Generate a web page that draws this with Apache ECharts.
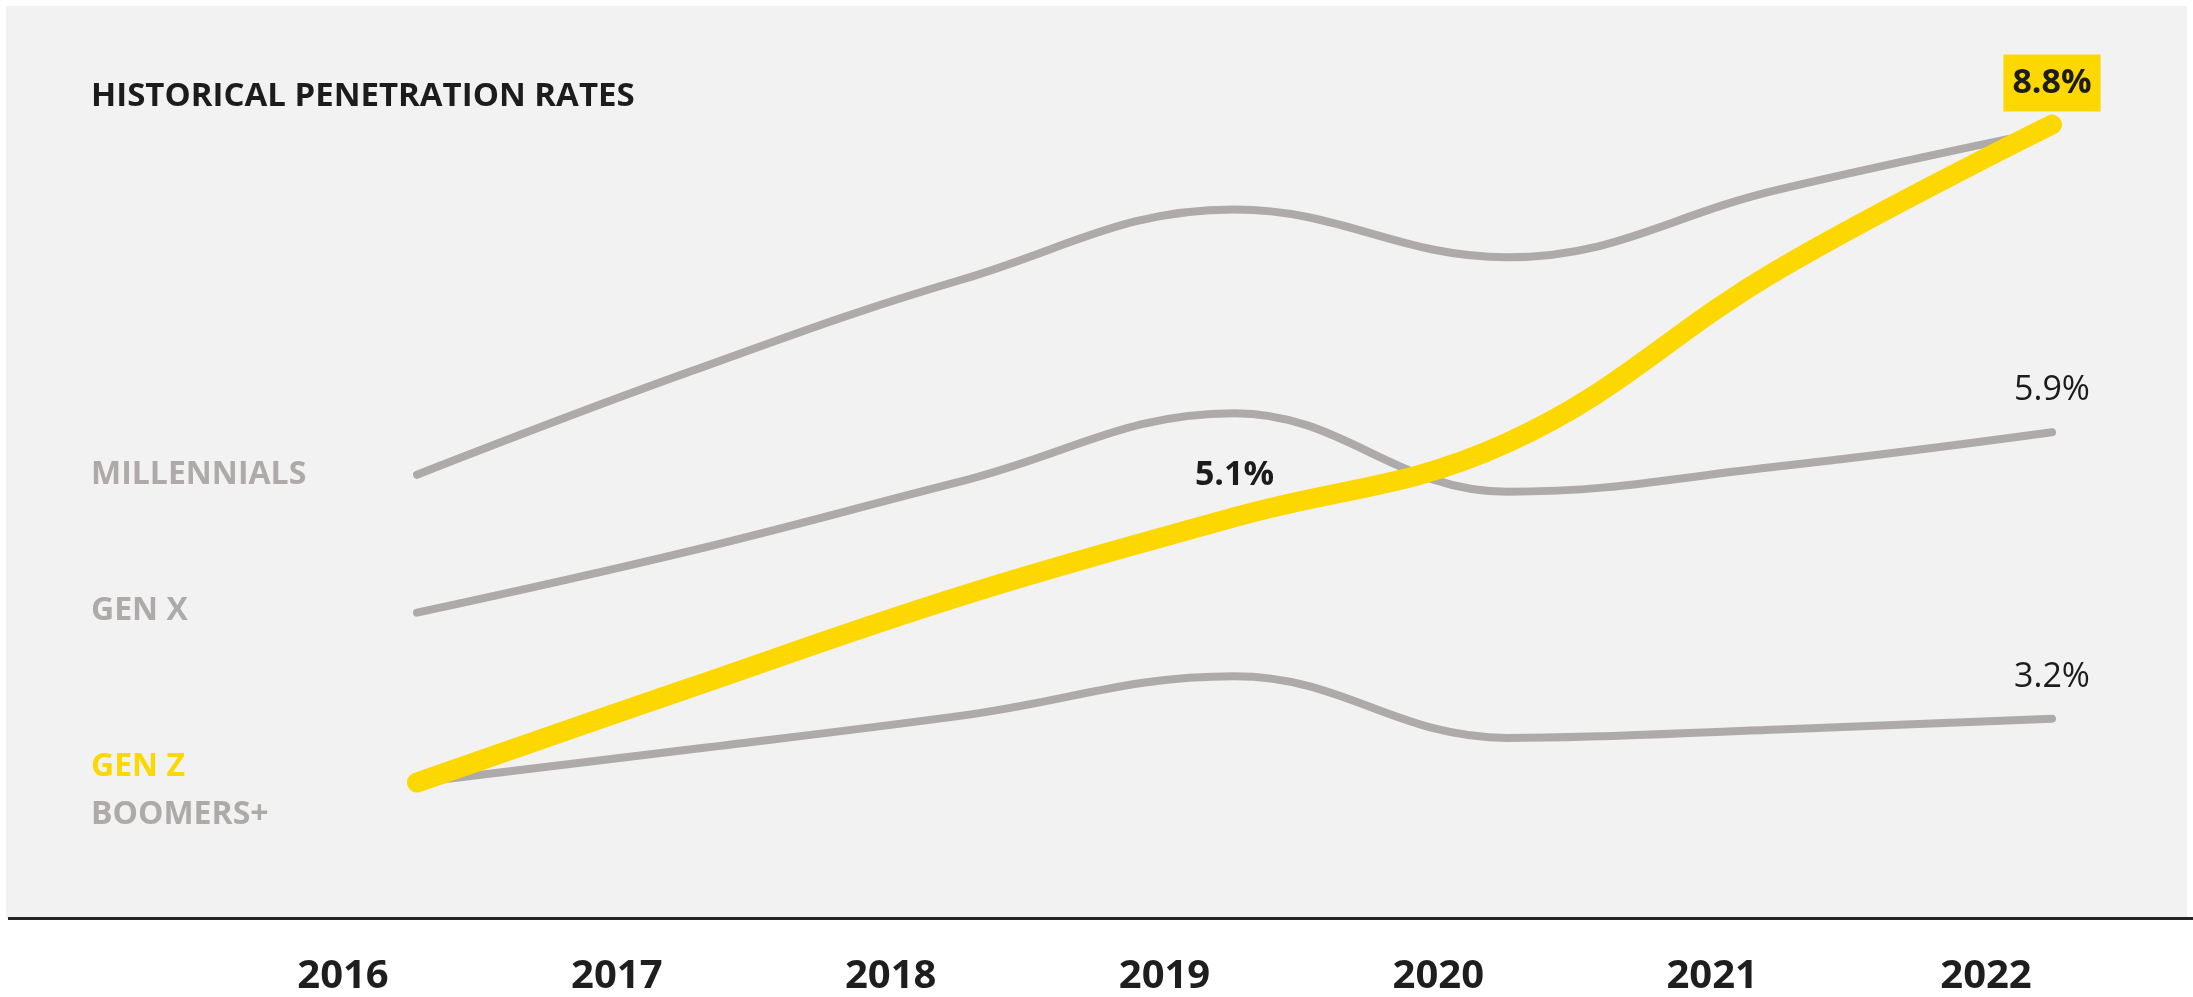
<!DOCTYPE html>
<html>
<head>
<meta charset="utf-8">
<title>Historical Penetration Rates</title>
<script src="https://cdn.jsdelivr.net/npm/echarts@6/dist/echarts.min.js"></script>
<style>
  html, body { margin: 0; padding: 0; background: #ffffff; }
  #chart { width: 2193px; height: 997px; }
</style>
</head>
<body>
<div id="chart"></div>
<script>
// Penetration rate (%) by generation, 2016-2022
const years = ['2016', '2017', '2018', '2019', '2020', '2021', '2022'];
const millennials = [5.5, 6.47, 7.34, 8.0, 7.55, 8.19, 8.75];
const genX = [4.2, 4.78, 5.44, 6.08, 5.34, 5.58, 5.9];
const genZ = [2.6, 3.49, 4.36, 5.1, 5.8, 7.44, 8.8];
const boomers = [2.6, 2.91, 3.23, 3.6, 3.02, 3.1, 3.2];

const titleText = 'HISTORICAL PENETRATION RATES';
const seriesNames = ['MILLENNIALS', 'GEN X', 'GEN Z', 'BOOMERS+'];

// which points carry a value label, and in which style
const labelledPoints = {
  'GEN Z': { 3: 'bold', 6: 'boxed' },
  'GEN X': { 6: 'plain' },
  'BOOMERS+': { 6: 'plain' }
};

const FONT = '"Open Sans", "Noto Sans", sans-serif';
const GREY = '#aeaaa9';
const YELLOW = '#fdd700';
const INK = '#1c1c1c';

const labelStyles = {
  plain: { fontSize: 34, fontWeight: 400, color: INK },
  bold: { fontSize: 34, fontWeight: 700, color: INK },
  boxed: { fontSize: 34, fontWeight: 700, color: INK, backgroundColor: YELLOW, padding: [12, 9, 11, 9] }
};

function buildData(name, values) {
  const marks = labelledPoints[name] || {};
  return values.map((v, i) => {
    if (!marks[i]) return v;
    const st = labelStyles[marks[i]];
    return {
      value: v,
      label: Object.assign({
        show: true,
        position: 'top',
        distance: 41,
        verticalAlign: 'middle',
        align: 'center',
        fontFamily: FONT,
        formatter: (p) => p.value.toFixed(1) + '%'
      }, st)
    };
  });
}

function lineSeries(name, values, color, width, z) {
  return {
    name: name,
    type: 'line',
    xAxisIndex: 0,
    yAxisIndex: 0,
    data: buildData(name, values),
    smooth: 0.4,
    symbol: 'circle',
    symbolSize: 1,
    showSymbol: true,
    itemStyle: { color: color },
    lineStyle: { color: color, width: width, cap: 'round', join: 'round' },
    label: { show: false },
    emphasis: { disabled: true },
    clip: false,
    z: z
  };
}

const chart = echarts.init(document.getElementById('chart'), null, { renderer: 'canvas' });

const sideLabel = (text, y, color) => ({
  type: 'text',
  x: 91,
  y: y,
  z: 5,
  style: {
    text: text,
    fill: color,
    font: 'bold 32px ' + FONT,
    verticalAlign: 'middle',
    textVerticalAlign: 'middle'
  }
});

chart.setOption({
  animation: false,
  backgroundColor: '#ffffff',
  title: {
    text: titleText,
    left: 86,
    top: 75,
    textStyle: { fontFamily: FONT, fontSize: 33, fontWeight: 700, color: INK }
  },
  graphic: [
    { type: 'rect', z: -1, shape: { x: 6, y: 6, width: 2181, height: 912 }, style: { fill: '#f2f2f2' } },
    { type: 'line', z: 1, shape: { x1: 8, y1: 918.5, x2: 2193, y2: 918.5 }, style: { stroke: '#262626', lineWidth: 3 } },
    sideLabel(seriesNames[0], 475, GREY),
    sideLabel(seriesNames[1], 611, GREY),
    sideLabel(seriesNames[2], 767, YELLOW),
    sideLabel(seriesNames[3], 815, GREY)
  ],
  grid: [
    { left: 417, right: 141, top: 103.4, bottom: 44.8 },
    { left: 343, right: 207, top: 900, bottom: 57 }
  ],
  xAxis: [
    {
      gridIndex: 0,
      type: 'category',
      data: years,
      boundaryGap: false,
      axisLine: { show: false },
      axisTick: { show: false },
      axisLabel: { show: false },
      splitLine: { show: false }
    },
    {
      gridIndex: 1,
      type: 'category',
      data: years,
      boundaryGap: false,
      axisLine: { show: false },
      axisTick: { show: false },
      splitLine: { show: false },
      axisLabel: {
        show: true,
        interval: 0,
        margin: 41,
        verticalAlign: 'middle',
        fontFamily: FONT,
        fontSize: 40,
        fontWeight: 700,
        color: '#1e1e1e'
      }
    }
  ],
  yAxis: [
    {
      gridIndex: 0,
      type: 'value',
      min: 1,
      max: 9,
      show: false,
      splitLine: { show: false }
    },
    {
      gridIndex: 1,
      type: 'value',
      show: false,
      splitLine: { show: false }
    }
  ],
  series: [
    lineSeries(seriesNames[0], millennials, GREY, 8, 2),
    lineSeries(seriesNames[1], genX, GREY, 8, 2),
    lineSeries(seriesNames[3], boomers, GREY, 8, 2),
    lineSeries(seriesNames[2], genZ, YELLOW, 20, 3)
  ]
});
</script>
</body>
</html>
